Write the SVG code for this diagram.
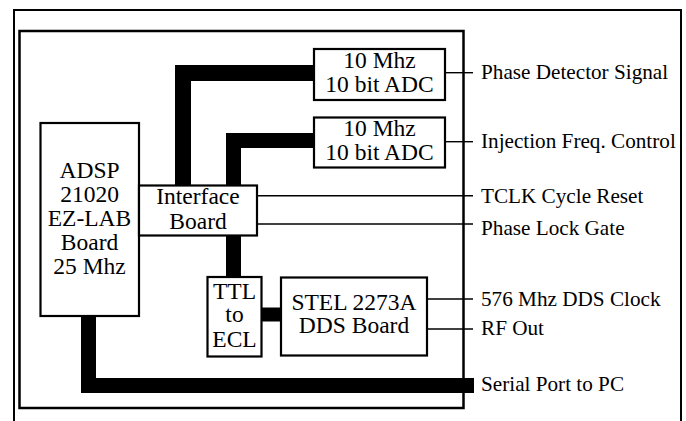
<svg xmlns="http://www.w3.org/2000/svg" width="686" height="421" viewBox="0 0 686 421">
<style>
.box{fill:#fff;stroke:#000;stroke-width:2.2}
.bar{fill:none;stroke:#000;stroke-linejoin:miter;stroke-linecap:butt}
.thin{fill:none;stroke:#000;stroke-width:1.4}
text{font-family:'Liberation Serif','Tinos','Times New Roman','Nimbus Roman','DejaVu Serif',serif;fill:#000}
.bt{font-size:23.5px;text-anchor:middle}
.lb{font-size:21.2px}
</style>
<rect width="686" height="421" fill="#fff"/>
<g id="frames">
<path d="M14,425 V10 H681 V425" fill="none" stroke="#000" stroke-width="2"/>
<rect x="19.5" y="31" width="444" height="377" fill="none" stroke="#000" stroke-width="2.5"/>
</g>
<g id="connectors">
<path class="bar" stroke-width="16" d="M183,186 V73 H314"/>
<path class="bar" stroke-width="15" d="M233.5,186 V140.5 H314"/>
<path class="bar" stroke-width="15" d="M233.5,235 V278"/>
<path class="bar" stroke-width="14" d="M261,314.5 H282"/>
<path class="bar" stroke-width="15" d="M88.5,315 V385.5 H474"/>
<line class="thin" x1="445" y1="72.7" x2="473" y2="72.7"/>
<line class="thin" x1="445" y1="141.7" x2="473" y2="141.7"/>
<line class="thin" x1="257" y1="195.7" x2="473" y2="195.7"/>
<line class="thin" x1="257" y1="224" x2="473" y2="224"/>
<line class="thin" x1="427" y1="299" x2="473" y2="299"/>
<line class="thin" x1="427" y1="329" x2="473" y2="329"/>
</g>
<g font-family="Liberation Serif, serif">
<g id="adsp">
<rect class="box" x="40.5" y="123" width="98.5" height="193"/>
<text class="bt" x="89.5" y="178.3">ADSP</text>
<text class="bt" x="89.5" y="202.3">21020</text>
<text class="bt" x="89.5" y="226">EZ-LAB</text>
<text class="bt" x="89.5" y="250">Board</text>
<text class="bt" x="89.5" y="273.5">25 Mhz</text>
</g>
<g id="interface">
<rect class="box" x="139" y="185.5" width="118" height="50"/>
<text class="bt" x="198" y="204.3">Interface</text>
<text class="bt" x="198" y="229.3">Board</text>
</g>
<g id="adc1">
<rect class="box" x="314" y="49" width="131" height="51"/>
<text class="bt" x="379.5" y="67.5">10 Mhz</text>
<text class="bt" x="379.5" y="92.3">10 bit ADC</text>
</g>
<g id="adc2">
<rect class="box" x="314" y="117.5" width="131" height="50"/>
<text class="bt" x="379.5" y="136">10 Mhz</text>
<text class="bt" x="379.5" y="159.5">10 bit ADC</text>
</g>
<g id="ttl">
<rect class="box" x="207.5" y="277" width="54" height="79.5"/>
<text class="bt" x="234.5" y="299.3">TTL</text>
<text class="bt" x="234.5" y="321.7">to</text>
<text class="bt" x="234.5" y="346.7">ECL</text>
</g>
<g id="stel">
<rect class="box" x="281" y="277.5" width="146" height="78"/>
<text class="bt" x="354" y="310">STEL 2273A</text>
<text class="bt" x="354" y="333.3">DDS Board</text>
</g>
<g id="labels">
<text class="lb" x="481" y="79.3">Phase Detector Signal</text>
<text class="lb" x="481" y="148.3">Injection Freq. Control</text>
<text class="lb" x="481" y="203.3">TCLK Cycle Reset</text>
<text class="lb" x="481" y="235">Phase Lock Gate</text>
<text class="lb" x="481" y="306">576 Mhz DDS Clock</text>
<text class="lb" x="481" y="335">RF Out</text>
<text class="lb" x="481" y="390.7">Serial Port to PC</text>
</g>
</g>
</svg>
